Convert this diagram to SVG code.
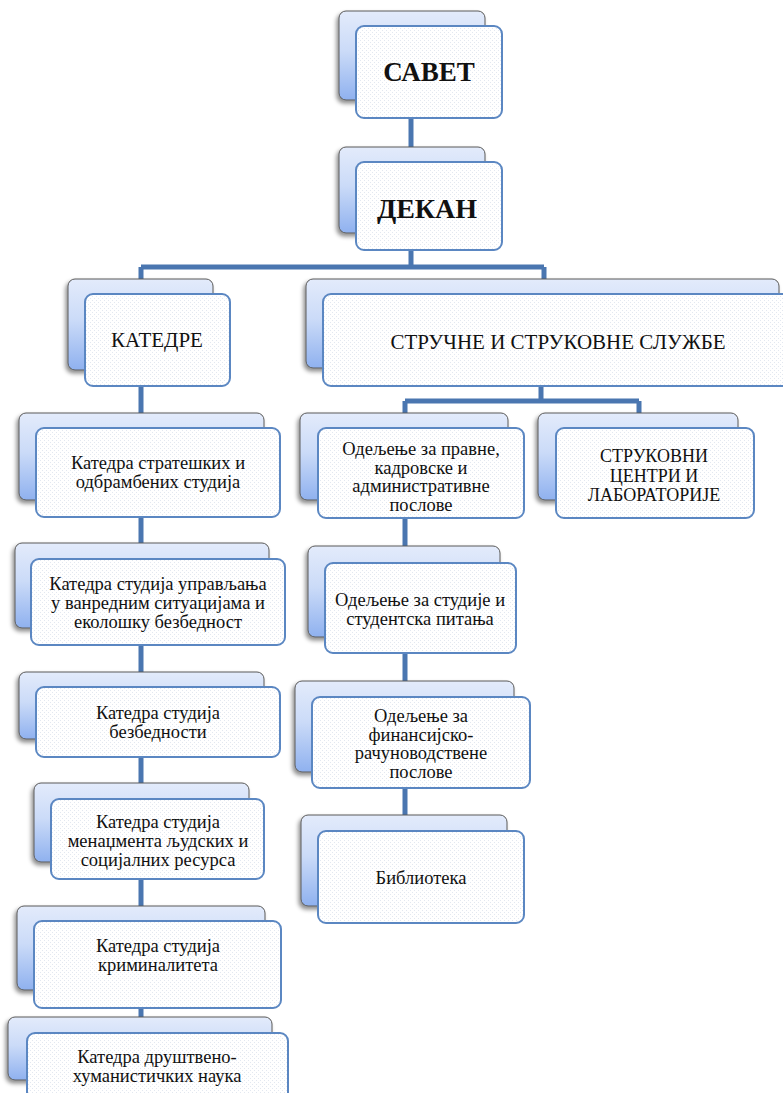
<svg xmlns="http://www.w3.org/2000/svg" width="783" height="1093" viewBox="0 0 783 1093">
<defs>
<linearGradient id="bg" x1="0" y1="0" x2="0" y2="1">
<stop offset="0" stop-color="#e3ebfb"/>
<stop offset="0.45" stop-color="#cbdbf8"/>
<stop offset="1" stop-color="#8fb1ef"/>
</linearGradient>
<pattern id="dots" width="4" height="4" patternUnits="userSpaceOnUse">
<rect width="4" height="4" fill="#ffffff"/>
<rect x="0" y="0" width="1" height="1" fill="#e3e8f0"/>
<rect x="2" y="2" width="1" height="1" fill="#e3e8f0"/>
</pattern>
<filter id="sh" x="-10%" y="-10%" width="120%" height="130%">
<feDropShadow dx="-2" dy="3" stdDeviation="2" flood-color="#000" flood-opacity="0.45"/>
</filter>
</defs>
<style>
.back{fill:url(#bg);stroke:#5a5a5a;stroke-width:1;filter:url(#sh)}
.front{fill:url(#dots);stroke:#5b87c2;stroke-width:2}
.con{fill:none;stroke:#4a76b0;stroke-width:5}
.t{fill:#111;text-anchor:middle;font-size:18.5px}
.big{font-size:27px;font-weight:bold}
.dk{font-size:28px}
.cap{font-size:21px}
.m{font-size:18px}
</style>
<g id="connectors">
<path class="con" d="M411 118V147"/>
<path class="con" d="M411 250V267M141 267H544M141 267V1017M544 267V279"/>
<path class="con" d="M541 386V401M405 401H639M405 401V815M639 401V413"/>
</g>
<g font-family="'Liberation Serif', 'DejaVu Serif', 'Times New Roman', serif">
<g id="savet">
<rect class="back" x="339" y="11" width="146" height="89" rx="7"/>
<rect class="front" x="356" y="26" width="146" height="92" rx="8"/>
<text class="t big" x="429" y="81">САВЕТ</text>
</g>
<g id="dekan">
<rect class="back" x="339" y="147" width="146" height="86" rx="7"/>
<rect class="front" x="356" y="162" width="146" height="88" rx="8"/>
<text class="t big dk" x="427" y="218">ДЕКАН</text>
</g>
<g id="katedre">
<rect class="back" x="68" y="279" width="145" height="91" rx="7"/>
<rect class="front" x="85" y="294" width="145" height="92" rx="8"/>
<text class="t cap" x="157" y="347">КАТЕДРЕ</text>
</g>
<g id="sluzbe">
<rect class="back" x="306" y="279" width="473" height="89" rx="7"/>
<rect class="front" x="323" y="294" width="475" height="92" rx="8"/>
<text class="t cap" x="558" y="349">СТРУЧНЕ И СТРУКОВНЕ СЛУЖБЕ</text>
</g>
<g id="k1">
<rect class="back" x="19" y="413" width="245" height="87" rx="7"/>
<rect class="front" x="36" y="428" width="244" height="89" rx="8"/>
<text class="t" x="158" y="469">Катедра стратешких и</text>
<text class="t" x="158" y="488">одбрамбених студија</text>
</g>
<g id="o1">
<rect class="back" x="300" y="413" width="208" height="87" rx="7"/>
<rect class="front" x="318" y="428" width="206" height="90" rx="8"/>
<text class="t" x="421" y="455">Одељење за правне,</text>
<text class="t" x="421" y="473.5">кадровске и</text>
<text class="t" x="421" y="492">административне</text>
<text class="t" x="421" y="510.5">послове</text>
</g>
<g id="centri">
<rect class="back" x="538" y="413" width="200" height="87" rx="7"/>
<rect class="front" x="556" y="428" width="198" height="90" rx="8"/>
<text class="t m" x="654" y="462">СТРУКОВНИ</text>
<text class="t m" x="654" y="481.5">ЦЕНТРИ И</text>
<text class="t m" x="654" y="501">ЛАБОРАТОРИЈЕ</text>
</g>
<g id="k2">
<rect class="back" x="15" y="543" width="254" height="85" rx="7"/>
<rect class="front" x="31" y="559" width="254" height="86" rx="8"/>
<text class="t" x="158" y="590">Катедра студија управљања</text>
<text class="t" x="158" y="609">у ванредним ситуацијама и</text>
<text class="t" x="158" y="628">еколошку безбедност</text>
</g>
<g id="o2">
<rect class="back" x="308" y="546" width="192" height="91" rx="7"/>
<rect class="front" x="325" y="563" width="191" height="90" rx="8"/>
<text class="t" x="420" y="606">Одељење за студије и</text>
<text class="t" x="420" y="625">студентска питања</text>
</g>
<g id="k3">
<rect class="back" x="19" y="672" width="245" height="67" rx="7"/>
<rect class="front" x="36" y="687" width="244" height="70" rx="8"/>
<text class="t" x="158" y="719">Катедра студија</text>
<text class="t" x="158" y="738">безбедности</text>
</g>
<g id="o3">
<rect class="back" x="295" y="681" width="219" height="91" rx="7"/>
<rect class="front" x="312" y="697" width="218" height="91" rx="8"/>
<text class="t" x="421" y="722">Одељење за</text>
<text class="t" x="421" y="740.5">финансијско-</text>
<text class="t" x="421" y="759">рачуноводствене</text>
<text class="t" x="421" y="777.5">послове</text>
</g>
<g id="k4">
<rect class="back" x="34" y="783" width="215" height="79" rx="7"/>
<rect class="front" x="51" y="799" width="213" height="80" rx="8"/>
<text class="t" x="158" y="827.5">Катедра студија</text>
<text class="t" x="158" y="846.5">менаџмента људских и</text>
<text class="t" x="158" y="865.5">социјалних ресурса</text>
</g>
<g id="biblioteka">
<rect class="back" x="301" y="815" width="206" height="91" rx="7"/>
<rect class="front" x="318" y="831" width="206" height="92" rx="8"/>
<text class="t" x="421" y="884">Библиотека</text>
</g>
<g id="k5">
<rect class="back" x="17" y="906" width="248" height="84" rx="7"/>
<rect class="front" x="34" y="921" width="247" height="87" rx="8"/>
<text class="t" x="158" y="952">Катедра студија</text>
<text class="t" x="158" y="971">криминалитета</text>
</g>
<g id="k6">
<rect class="back" x="8" y="1017" width="264" height="63" rx="7"/>
<rect class="front" x="27" y="1033" width="261" height="70" rx="8"/>
<text class="t" x="157" y="1063">Катедра друштвено-</text>
<text class="t" x="157" y="1082">хуманистичких наука</text>
</g>
</g>
</svg>
